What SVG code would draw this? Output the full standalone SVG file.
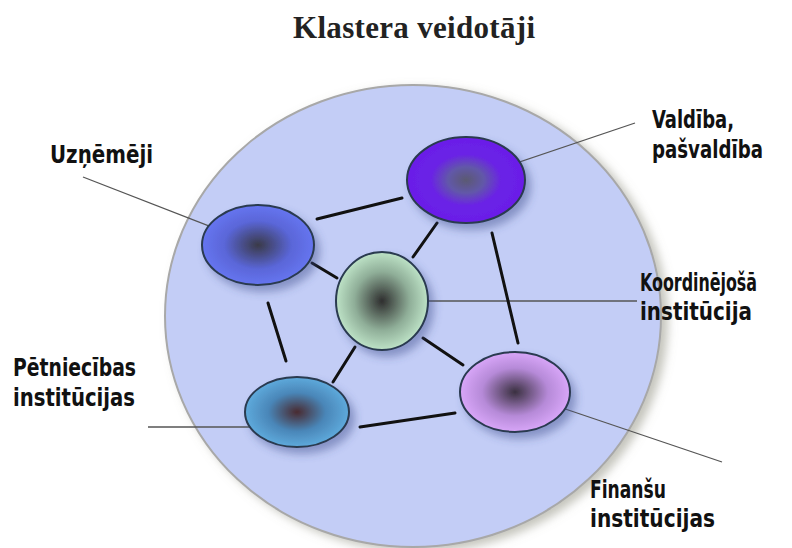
<svg xmlns="http://www.w3.org/2000/svg" width="792" height="548" viewBox="0 0 792 548">
<style>
.lbl{font-family:"DejaVu Sans Condensed","DejaVu Sans",sans-serif;font-weight:bold;font-size:24px;fill:#111}
.title{font-family:"Liberation Serif",serif;font-weight:bold;font-size:31px;fill:#222}
.node{stroke:#2a3a50;stroke-width:2;filter:url(#sh)}
.conn{stroke:#111;stroke-width:3;stroke-linecap:round}
.lead{stroke:#555;stroke-width:1.3}
</style>
<defs>
<filter id="sh" x="-30%" y="-30%" width="170%" height="170%">
<feDropShadow dx="5" dy="6" stdDeviation="4" flood-color="#3c4a8a" flood-opacity="0.45"/>
</filter>
<filter id="bsh" x="-10%" y="-10%" width="125%" height="125%">
<feDropShadow dx="6" dy="4" stdDeviation="5" flood-color="#8a8a7a" flood-opacity="0.5"/>
</filter>
<radialGradient id="gU"><stop offset="0" stop-color="#3a3a48"/><stop offset="0.6" stop-color="#5a66d8"/><stop offset="1" stop-color="#6675f0"/></radialGradient>
<radialGradient id="gV"><stop offset="0" stop-color="#5a5a72"/><stop offset="0.3" stop-color="#6258a8"/><stop offset="0.6" stop-color="#6a22e6"/><stop offset="1" stop-color="#6a1ee8"/></radialGradient>
<radialGradient id="gK"><stop offset="0" stop-color="#2e2e2e"/><stop offset="0.6" stop-color="#8fae98"/><stop offset="1" stop-color="#bde2c6"/></radialGradient>
<radialGradient id="gP"><stop offset="0" stop-color="#4a2a30"/><stop offset="0.55" stop-color="#4a86b8"/><stop offset="1" stop-color="#5eaadc"/></radialGradient>
<radialGradient id="gF"><stop offset="0" stop-color="#3a3040"/><stop offset="0.6" stop-color="#b68ad8"/><stop offset="1" stop-color="#d8a6f8"/></radialGradient>
</defs>
<rect width="792" height="548" fill="#fff"/>
<text class="title" x="414" y="38" text-anchor="middle" textLength="242">Klastera veidotāji</text>
<ellipse cx="413" cy="316" rx="248" ry="231" fill="#c3cdf6" stroke="#a8a8a8" stroke-width="2" filter="url(#bsh)"/>
<g id="leaders">
<line class="lead" x1="83" y1="177" x2="258" y2="245"/>
<line class="lead" x1="466" y1="180" x2="635" y2="123"/>
<line class="lead" x1="382" y1="301" x2="637" y2="301"/>
<line class="lead" x1="148" y1="427" x2="297" y2="427"/>
<line class="lead" x1="515" y1="392" x2="722" y2="462"/>
</g>
<g id="connectors">
<line class="conn" x1="317" y1="219" x2="402" y2="198"/>
<line class="conn" x1="413" y1="257" x2="437" y2="223"/>
<line class="conn" x1="312" y1="263" x2="337" y2="278"/>
<line class="conn" x1="268" y1="303" x2="286" y2="361"/>
<line class="conn" x1="333" y1="382" x2="355" y2="347"/>
<line class="conn" x1="423" y1="338" x2="463" y2="365"/>
<line class="conn" x1="492" y1="233" x2="518" y2="343"/>
<line class="conn" x1="360" y1="427" x2="455" y2="413"/>
</g>
<g id="uznemeji">
<ellipse class="node" cx="258" cy="245" rx="56" ry="40" fill="url(#gU)"/>
<text class="lbl" x="50" y="163" textLength="103" lengthAdjust="spacingAndGlyphs">Uzņēmēji</text>
</g>
<g id="valdiba">
<ellipse class="node" cx="466" cy="180" rx="59" ry="43" fill="url(#gV)"/>
<text class="lbl" x="652" y="128" textLength="82" lengthAdjust="spacingAndGlyphs">Valdība,</text>
<text class="lbl" x="652" y="158" textLength="111" lengthAdjust="spacingAndGlyphs">pašvaldība</text>
</g>
<g id="koordinejosa">
<ellipse class="node" cx="382" cy="301" rx="46" ry="49" fill="url(#gK)"/>
<text class="lbl" x="640" y="291" textLength="117" lengthAdjust="spacingAndGlyphs">Koordinējošā</text>
<text class="lbl" x="640" y="320" textLength="112" lengthAdjust="spacingAndGlyphs">institūcija</text>
</g>
<g id="petniecibas">
<ellipse class="node" cx="297" cy="412" rx="52" ry="35" fill="url(#gP)"/>
<text class="lbl" x="13" y="376" textLength="123" lengthAdjust="spacingAndGlyphs">Pētniecības</text>
<text class="lbl" x="13" y="406" textLength="122" lengthAdjust="spacingAndGlyphs">institūcijas</text>
</g>
<g id="finansu">
<ellipse class="node" cx="515" cy="392" rx="55" ry="40" fill="url(#gF)"/>
<text class="lbl" x="590" y="498" textLength="76" lengthAdjust="spacingAndGlyphs">Finanšu</text>
<text class="lbl" x="590" y="527" textLength="125" lengthAdjust="spacingAndGlyphs">institūcijas</text>
</g>
</svg>
